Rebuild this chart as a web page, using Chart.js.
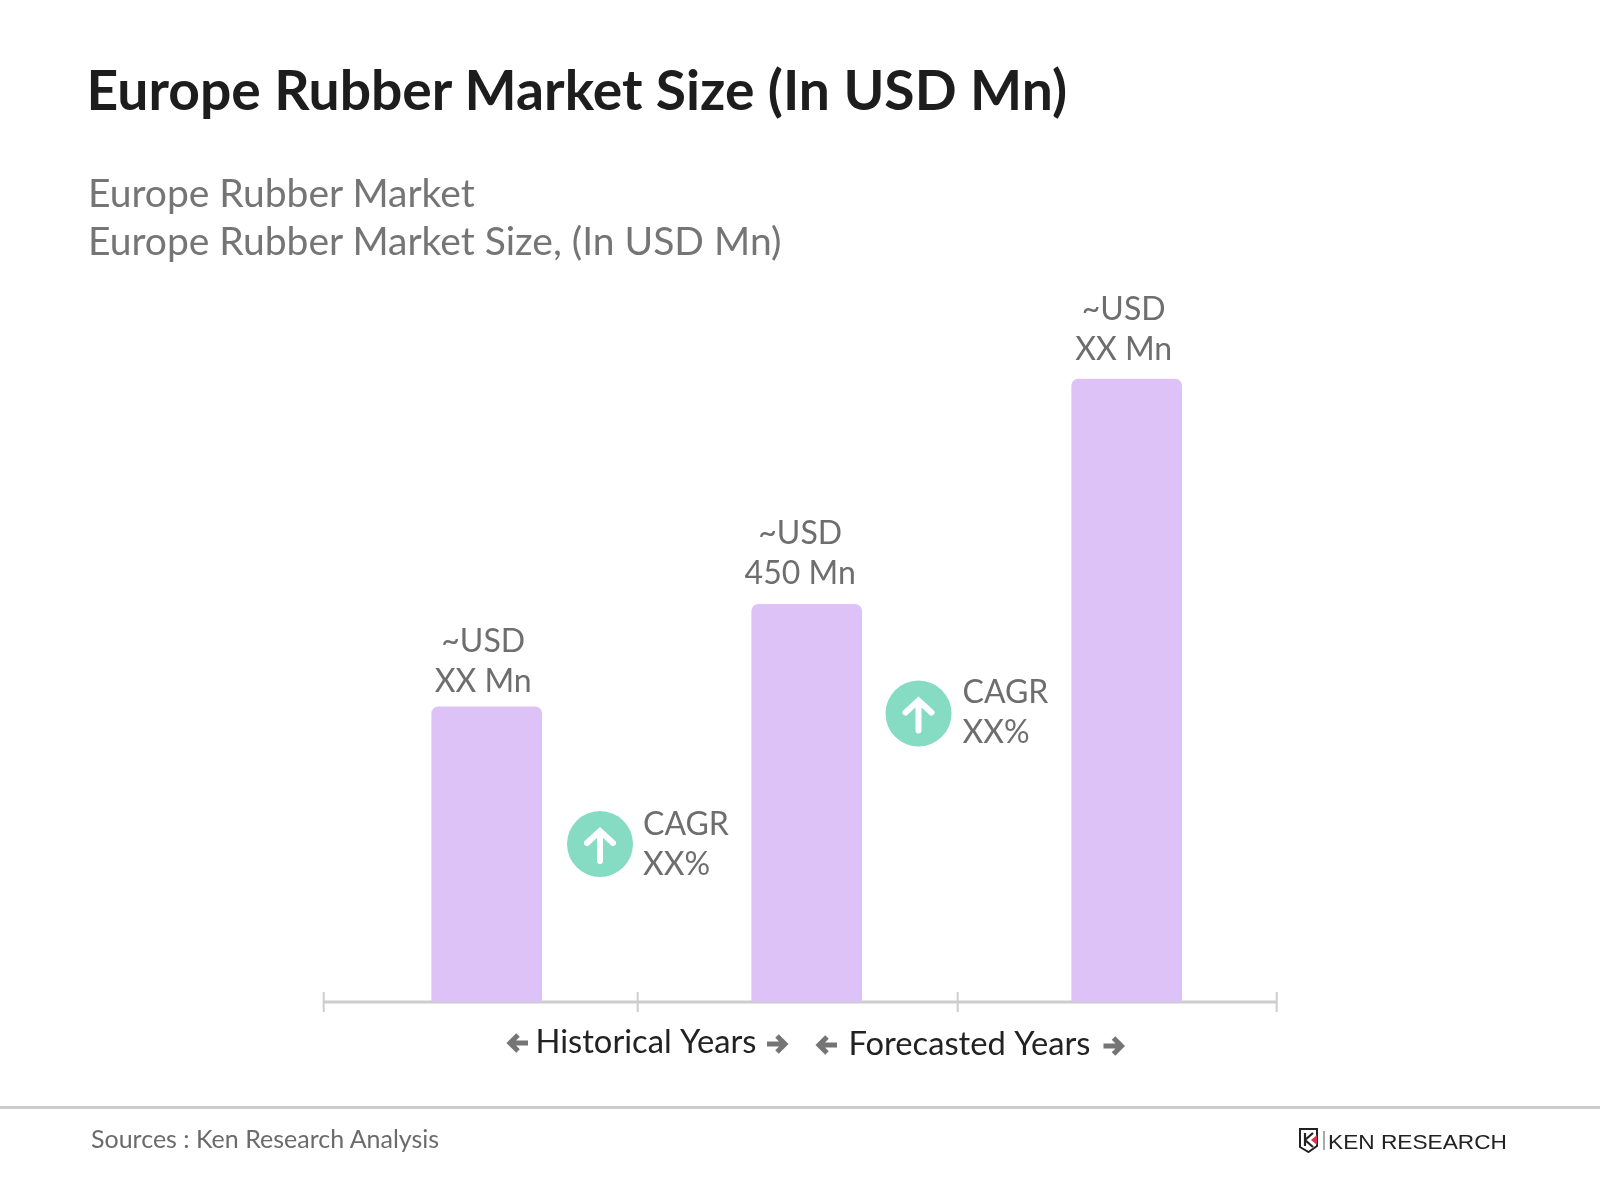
<!DOCTYPE html>
<html>
<head>
<meta charset="utf-8">
<title>Europe Rubber Market Size</title>
<script src="https://cdn.jsdelivr.net/npm/chart.js@4"></script>
<style>
  html, body { margin: 0; padding: 0; background: #fff; }
  #page { position: relative; width: 1600px; height: 1200px; overflow: hidden; font-family: Lato, sans-serif; }
  #marketChart { position: absolute; left: 0; top: 0; }
  .txt { position: absolute; white-space: nowrap; }
  #heading { left: 86.5px; top: 55px; font-size: 55.2px; line-height: 68px; font-weight: 700; color: #1d1d1d; }
  #sub { left: 88px; top: 168px; font-size: 39px; line-height: 48px; color: #757575; }
  #sources { left: 91px; top: 1120.5px; font-size: 25px; line-height: 34px; color: #6b6b6b; }
  #rule { position: absolute; left: 0; top: 1106px; width: 1600px; height: 3px; background: #cdcdcd; }
  #logo { position: absolute; left: 1299px; top: 1128px; }
  #logoText { left: 1328px; top: 1129px; font-family: "Liberation Sans", sans-serif; font-size: 21px; line-height: 26px; color: #222; transform-origin: left top; transform: scaleX(1.08); }
</style>
</head>
<body>
<div id="page">
  <canvas id="marketChart" width="1600" height="1200"></canvas>
  <div class="txt" id="heading">Europe Rubber Market Size (In USD Mn)</div>
  <div class="txt" id="sub">Europe Rubber Market<br>Europe Rubber Market Size, (In USD Mn)</div>
  <div id="rule"></div>
  <div class="txt" id="sources">Sources : Ken Research Analysis</div>
  <svg id="logo" width="26" height="25" viewBox="0 0 26 25">
    <path d="M1 1 H18 V18 L9.5 24 L1 19 Z" fill="none" stroke="#222" stroke-width="2"/>
    <path d="M6 5 V18 M6 12 L14 5 M6 12 L14 19" fill="none" stroke="#222" stroke-width="2.2"/>
    <path d="M18 7 L12 12 L18 17 Z" fill="#d8354a"/>
    <path d="M25 3 V22" stroke="#555" stroke-width="1"/>
  </svg>
  <div class="txt" id="logoText">KEN RESEARCH</div>
</div>

<script>
// chart data
const categories = ['Period 1', 'Period 2', 'Period 3'];
const marketSize = [334, 450, 705];
const barLabels = [['~USD', 'XX Mn'], ['~USD', '450 Mn'], ['~USD', 'XX Mn']];
const axisTicks = [-3, 311, 631, 950];
const cagrLabels = [['CAGR', 'XX%'], ['CAGR', 'XX%']];
const yearLabels = ['Historical Years', 'Forecasted Years'];

const GREY = '#6e6e6e';
// the labels sit a little off the bar centres in the original
const labelNudge = [[-3.5, 5.5], [-6.5, 0], [-3, 2]];

function drawArrow(ctx, x1, x2, y) {
  // x1 is the tail, x2 the head
  const dir = x2 > x1 ? 1 : -1;
  ctx.strokeStyle = '#757575';
  ctx.lineWidth = 5;
  ctx.beginPath();
  ctx.moveTo(x1, y);
  ctx.lineTo(x2 - dir * 2, y);
  ctx.moveTo(x2 - dir * 9, y - 8);
  ctx.lineTo(x2 - dir * 1, y);
  ctx.lineTo(x2 - dir * 9, y + 8);
  ctx.stroke();
}

function drawCagr(ctx, cx, cy, lines, textShift, textLeft) {
  ctx.fillStyle = '#86dbc3';
  ctx.beginPath();
  ctx.arc(cx, cy, 33, 0, Math.PI * 2);
  ctx.fill();

  ctx.strokeStyle = '#fff';
  ctx.lineWidth = 6;
  ctx.lineCap = 'round';
  ctx.beginPath();
  ctx.moveTo(cx, cy + 17);
  ctx.lineTo(cx, cy - 11);
  ctx.moveTo(cx - 13, cy - 1);
  ctx.lineTo(cx, cy - 13);
  ctx.lineTo(cx + 13, cy - 1);
  ctx.stroke();
  ctx.lineCap = 'butt';

  ctx.fillStyle = GREY;
  ctx.font = '32px Lato';
  ctx.textAlign = 'left';
  ctx.textBaseline = 'middle';
  ctx.fillText(lines[0], cx + textLeft, cy - 21 + textShift);
  ctx.fillText(lines[1], cx + textLeft, cy + 19 + textShift);
}

const axisPlugin = {
  id: 'axisPlugin',
  beforeDatasetsDraw(chart) {
    const ctx = chart.ctx;
    const scale = chart.scales.x2;
    const y = chart.scales.y.getPixelForValue(0);
    const ticks = axisTicks.map(v => scale.getPixelForValue(v));
    ctx.save();
    ctx.strokeStyle = '#cdcdcd';
    ctx.lineWidth = 3;
    ctx.beginPath();
    ctx.moveTo(ticks[0], y);
    ctx.lineTo(ticks[ticks.length - 1], y);
    ctx.stroke();
    ctx.lineWidth = 2;
    ticks.forEach(function(x) {
      ctx.beginPath();
      ctx.moveTo(x, y - 10);
      ctx.lineTo(x, y + 10);
      ctx.stroke();
    });
    ctx.restore();
  }
};

const labelPlugin = {
  id: 'labelPlugin',
  afterDatasetsDraw(chart) {
    const ctx = chart.ctx;
    ctx.save();

    // value labels above the bars
    ctx.fillStyle = GREY;
    ctx.font = '32px Lato';
    ctx.textAlign = 'center';
    ctx.textBaseline = 'middle';
    chart.getDatasetMeta(0).data.forEach(function(bar, i) {
      const x = bar.x + labelNudge[i][0];
      const y = bar.y + labelNudge[i][1];
      ctx.fillText(barLabels[i][0], x, y - 71);
      ctx.fillText(barLabels[i][1], x, y - 31);
    });

    // cagr badges
    drawCagr(ctx, 600, 844, cagrLabels[0], 2, 43);
    drawCagr(ctx, 918.5, 713.5, cagrLabels[1], 0.5, 44);

    // years under the axis
    ctx.fillStyle = '#222';
    ctx.font = '32.7px Lato';
    ctx.textAlign = 'left';
    ctx.textBaseline = 'middle';
    ctx.fillText(yearLabels[0], 535.5, 1042.5);
    ctx.fillText(yearLabels[1], 848.5, 1044.5);
    drawArrow(ctx, 528, 509, 1043);
    drawArrow(ctx, 767, 786, 1044);
    drawArrow(ctx, 837, 818, 1045);
    drawArrow(ctx, 1103.5, 1122.5, 1046);

    ctx.restore();
  }
};

new Chart(document.getElementById('marketChart').getContext('2d'), {
  type: 'bar',
  data: {
    labels: categories,
    datasets: [{
      label: 'Market Size',
      data: marketSize,
      xAxisID: 'x',
      backgroundColor: '#ddc2f7',
      barThickness: 110,
      borderRadius: { topLeft: 7, topRight: 7 },
      borderSkipped: 'bottom'
    }]
  },
  options: {
    responsive: false,
    animation: false,
    layout: { padding: { left: 326.7, right: 313.3, top: 295, bottom: 198 } },
    scales: {
      x: { display: false },
      x2: { type: 'linear', display: false, offset: false, min: 0, max: 960 },
      y: { display: false, min: 0, max: 800 }
    },
    plugins: {
      legend: { display: false },
      tooltip: { enabled: false }
    }
  },
  plugins: [axisPlugin, labelPlugin]
});
</script>
</body>
</html>
